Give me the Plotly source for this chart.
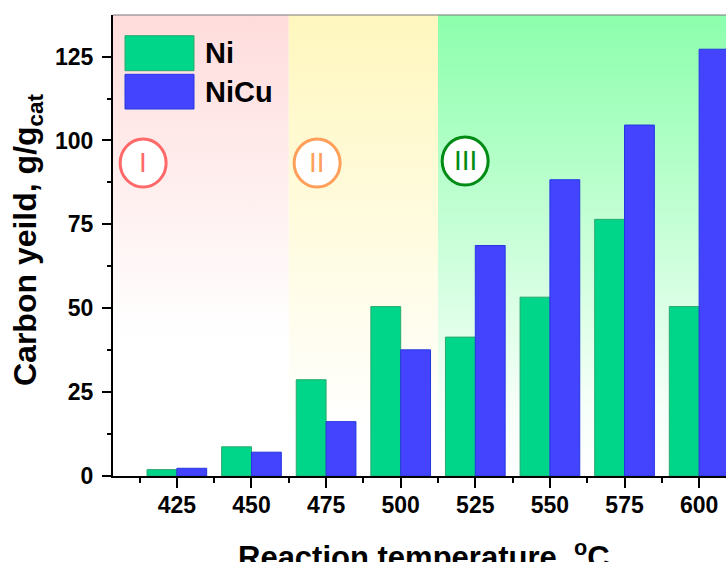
import plotly.graph_objects as go

# ---- data ----
temperatures = [425, 450, 475, 500, 525, 550, 575, 600]
ni_yield = [1.9, 8.7, 28.7, 50.5, 41.4, 53.3, 76.5, 50.5]
nicu_yield = [2.3, 7.1, 16.2, 37.6, 68.7, 88.3, 104.6, 127.2]
y_ticks = [0, 25, 50, 75, 100, 125]

region_labels = ["I", "II", "III"]
region_bounds = [(395, 462.5), (462.5, 512.5), (512.5, 620)]
region_label_x = [413.7, 472.0, 521.6]
region_label_y = [93.3, 93.3, 93.9]

X_RANGE = [403.6, 609.0]
Y_RANGE = [0, 137.4]

FONT = "Arial, Liberation Sans, sans-serif"

region_colorscales = [
    [[0, "white"], [0.30, "white"], [1, "rgb(255,220,220)"]],
    [[0, "white"], [0.10, "white"], [1, "rgb(255,247,190)"]],
    [[0, "white"], [0.15, "rgb(246,255,249)"], [1, "rgb(140,255,172)"]],
]
circle_colors = ["rgb(255,105,105)", "rgb(255,160,90)", "rgb(0,140,20)"]

fig = go.Figure()

# background shaded regions (vertical gradients) on the base axes
for (x0, x1), cs in zip(region_bounds, region_colorscales):
    fig.add_trace(go.Scatter(
        x=[x0, x1, x1, x0, x0],
        y=[Y_RANGE[0], Y_RANGE[0], 140, 140, Y_RANGE[0]],
        fill="toself", mode="none",
        fillgradient=dict(type="vertical", colorscale=cs,
                          start=Y_RANGE[0], stop=Y_RANGE[1]),
        hoverinfo="skip", showlegend=False,
        xaxis="x", yaxis="y",
    ))

# bars on overlaying axes so they are drawn above the backgrounds
fig.add_trace(go.Bar(
    x=temperatures, y=ni_yield, name="Ni",
    marker=dict(color="rgb(0,214,137)",
                line=dict(color="rgb(40,170,110)", width=1)),
    showlegend=False, xaxis="x2", yaxis="y2",
))
fig.add_trace(go.Bar(
    x=temperatures, y=nicu_yield, name="NiCu",
    marker=dict(color="rgb(68,68,255)",
                line=dict(color="rgb(35,55,225)", width=1)),
    showlegend=False, xaxis="x2", yaxis="y2",
))

shapes = []
annotations = []

# region circles with roman numerals
for lab, cx, cy, col in zip(region_labels, region_label_x, region_label_y, circle_colors):
    shapes.append(dict(
        type="circle", xref="x", yref="y",
        xsizemode="pixel", ysizemode="pixel",
        xanchor=cx, yanchor=cy,
        x0=-23, x1=23, y0=-24, y1=24,
        line=dict(color=col, width=3), fillcolor="white", layer="above",
    ))
    annotations.append(dict(
        x=cx, y=cy, xref="x", yref="y", text=lab, showarrow=False,
        font=dict(family=FONT, size=28, color=col),
        xanchor="center", yanchor="middle",
    ))

# custom legend (large swatches); helper converts page pixels to paper coords
W, H = 613.0, 461.0
def px(x):
    return (x - 113) / W
def py(y):
    return (476 - y) / H

legend_items = [("Ni", "rgb(0,214,137)", "rgb(40,170,110)", 35.7, 70.7),
                ("NiCu", "rgb(68,68,255)", "rgb(35,55,225)", 74.3, 109.0)]
for name, fc, lc, y0, y1 in legend_items:
    shapes.append(dict(type="rect", xref="paper", yref="paper",
                       x0=px(125), x1=px(194), y0=py(y1), y1=py(y0),
                       fillcolor=fc, line=dict(color=lc, width=1), layer="above"))
    annotations.append(dict(
        x=px(203), y=py((y0 + y1) / 2), xref="paper", yref="paper",
        text="<b>%s</b>" % name, showarrow=False, xanchor="left", yanchor="middle",
        font=dict(family=FONT, size=29, color="black"),
    ))

# thin top frame line
shapes.append(dict(type="line", xref="paper", yref="paper", x0=0, x1=1, y0=1, y1=1,
                   line=dict(color="rgb(120,120,120)", width=1)))

# axis titles
annotations.append(dict(
    x=px(423.5), y=py(555), xref="paper", yref="paper",
    text="<b>Reaction temperature, <sup>o</sup>C</b>", showarrow=False,
    xanchor="center", yanchor="middle",
    font=dict(family=FONT, size=31, color="black"),
))
annotations.append(dict(
    x=px(27), y=py(240), xref="paper", yref="paper", textangle=-90,
    text="<b>Carbon yeild, g/g<sub>cat</sub></b>", showarrow=False,
    xanchor="center", yanchor="middle",
    font=dict(family=FONT, size=32, color="black"),
))

tickfont = dict(family=FONT, size=23, color="black", weight="bold")

fig.update_layout(
    width=726, height=562,
    margin=dict(l=113, r=0, t=15, b=86, autoexpand=False),
    paper_bgcolor="white", plot_bgcolor="white",
    barmode="group", bargap=0.2, bargroupgap=0,
    shapes=shapes, annotations=annotations,
    hovermode=False,
    xaxis=dict(
        range=X_RANGE, tickmode="array", tickvals=temperatures,
        ticktext=[str(t) for t in temperatures],
        ticks="outside", ticklen=10, tickwidth=2, tickcolor="black",
        minor=dict(dtick=25, tick0=412.5, ticks="outside", ticklen=5, tickwidth=2, tickcolor="black"),
        showline=True, linecolor="black", linewidth=2,
        showgrid=False, zeroline=False, automargin=False,
        tickfont=tickfont, ticklabelstandoff=-3,
    ),
    yaxis=dict(
        range=Y_RANGE, tickmode="array", tickvals=y_ticks,
        ticks="outside", ticklen=9, tickwidth=2, tickcolor="black",
        minor=dict(dtick=12.5, tick0=0, ticks="outside", ticklen=4, tickwidth=2, tickcolor="black"),
        showline=True, linecolor="black", linewidth=2,
        showgrid=False, zeroline=False, automargin=False,
        tickfont=tickfont, ticklabelstandoff=4,
    ),
    xaxis2=dict(range=X_RANGE, overlaying="x", visible=False, automargin=False),
    yaxis2=dict(range=Y_RANGE, overlaying="y", visible=False, automargin=False),
)

# remove the page's default body margin / scrollbars so the 726x562 figure fills the window
fig.write_html(
    "out.html",
    config={"displayModeBar": False},
    post_script="document.body.style.margin='0';document.body.style.overflow='hidden';"
                "document.documentElement.style.overflow='hidden';",
)
